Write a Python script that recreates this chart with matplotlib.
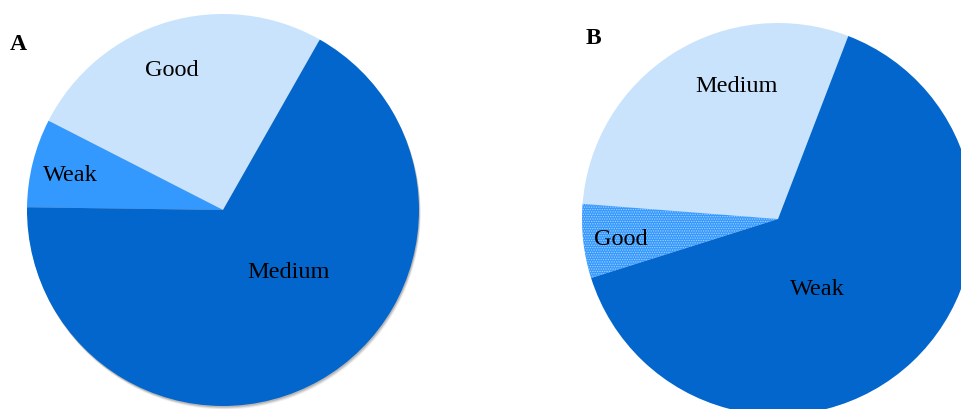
import numpy as np
import matplotlib
matplotlib.use("Agg")
import matplotlib.pyplot as plt
from matplotlib.patches import Circle

plt.rcParams['font.family'] = ['Liberation Serif', 'DejaVu Serif']
plt.rcParams['hatch.linewidth'] = 0.6

# panel A
labels_a = ["Good", "Weak", "Medium"]
values_a = [25.7, 7.3, 67.0]
colors_a = ["#C9E3FC", "#3399FF", "#0366CC"]

# panel B
labels_b = ["Medium", "Good", "Weak"]
values_b = [29.6, 6.1, 64.3]
colors_b = ["#C9E3FC", "#3399FF", "#0366CC"]

W, H = 962, 410
fig = plt.figure(figsize=(W / 100, H / 100), dpi=100)
ax = fig.add_axes([0, 0, 1, 1])

# pie A, with a soft shadow behind it
ca = (223, H - 211)
ra = 196
for off, a in [(3.5, 0.06), (2.5, 0.10), (1.5, 0.14)]:
    ax.add_patch(Circle((ca[0] + off * 0.5, ca[1] - off), ra, color='black',
                        alpha=a, lw=0, zorder=0))
wa, _ = ax.pie(values_a, colors=colors_a, startangle=60.4, counterclock=True,
               center=ca, radius=ra, wedgeprops=dict(linewidth=0),
               normalize=True, frame=True)
for w in wa:
    w.set_zorder(1)

# pie B, "Good" slice is dotted
cb = (778, H - 220)
rb = 196
wb, _ = ax.pie(values_b, colors=colors_b, startangle=69.0, counterclock=True,
               center=cb, radius=rb, wedgeprops=dict(linewidth=0),
               normalize=True, frame=True)
wb[1].set_hatch('.......')
wb[1].set_edgecolor('#A9D2FF')
wb[1].set_linewidth(0)

ax.set_xlim(0, W)
ax.set_ylim(0, H)
ax.set_aspect('equal')
ax.axis('off')

fs = 17.5
label_pos_a = [(172, 70), (70, 176), (289, 273)]
for lab, (x, y) in zip(labels_a, label_pos_a):
    ax.text(x, H - y, lab, fontsize=fs, ha='center', va='center', zorder=5)
label_pos_b = [(737, 86), (621, 240), (817, 290)]
for lab, (x, y) in zip(labels_b, label_pos_b):
    ax.text(x, H - y, lab, fontsize=fs, ha='center', va='center', zorder=5)

ax.text(18, H - 45, "A", fontsize=17, fontweight='bold', ha='center', va='center')
ax.text(593, H - 39, "B", fontsize=17, fontweight='bold', ha='center', va='center')

fig.savefig("out.png", dpi=100)
